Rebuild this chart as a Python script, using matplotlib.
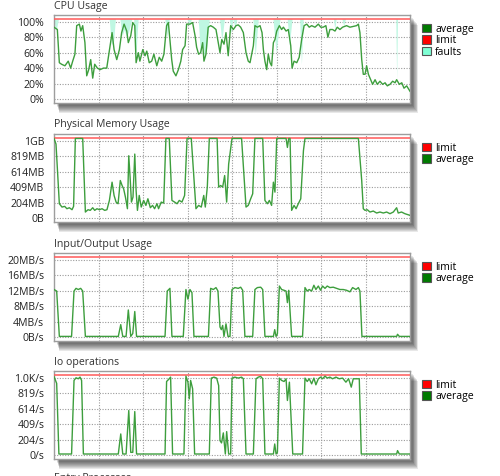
import matplotlib
matplotlib.use("Agg")
import matplotlib.pyplot as plt
from matplotlib.patches import Patch, Rectangle

plt.rcParams['font.family'] = ['Open Sans', 'DejaVu Sans']

# time axis runs 0..160 (8 grid intervals)
cpu_t = [0, 1.5, 2.4, 3.4, 4.9, 6.4, 7.5, 8.4, 9.4, 10.2, 11.4, 12.1, 12.9, 13.9, 14.7, 15.6, 16.5, 17.4,
         18.3, 19.5, 20.7, 22.2, 23.7, 25.2, 26.1, 27.0, 28.2, 29.4, 30.4, 31.5, 32.7, 33.4, 34.5, 35.4,
         36.3, 36.9, 37.9, 38.6, 39.9, 40.9, 41.7, 42.8, 43.9, 44.9, 46.2, 47.3, 48.4, 49.4, 50.6, 51.4,
         52.1, 52.9, 53.6, 54.8, 55.9, 57.0, 57.8, 58.9, 59.6, 61.1, 62.3, 63.4, 64.1, 65.0, 65.9, 66.8,
         67.4, 68.3, 69.3, 70.4, 71.6, 72.8, 73.8, 74.6, 75.4, 76.4, 77.3, 78.3, 79.4, 80.6, 81.8, 82.8,
         83.9, 85.1, 86.3, 87.3, 88.1, 89.6, 90.3, 91.4, 92.6, 93.5, 94.1, 94.8, 95.6, 96.3, 97.1, 97.8,
         98.6, 99.3, 100.1, 101.3, 102.3, 103.1, 104.3, 105.3, 106.4, 107.0, 107.9, 109.1, 110.2, 111.3,
         112.4, 113.6, 114.7, 115.8, 117.3, 118.8, 119.9, 121.0, 122.2, 123.1, 124.0, 125.2, 126.3, 127.3,
         128.5, 129.7, 131.5, 133.0, 134.5, 136.0, 136.8, 137.5, 138.3, 139.0, 139.8, 140.5, 141.3, 142.3,
         143.2, 144.3, 145.3, 146.5, 147.7, 148.8, 149.8, 151.0, 152.2, 153.3, 154.0, 155.2, 156.3, 157.3,
         158.5, 160]
cpu_avg = [93, 90, 47, 45, 43, 49, 40, 49, 58, 95, 97, 88, 95, 73, 30, 38, 51, 27,
           45, 40, 38, 40, 40, 69, 86, 64, 51, 64, 86, 97, 88, 73, 82, 99,
           95, 47, 60, 49, 64, 56, 62, 47, 49, 58, 43, 54, 49, 58, 95, 99,
           77, 51, 36, 30, 38, 49, 64, 69, 97, 97, 99, 82, 67, 58, 60, 73,
           49, 58, 93, 95, 93, 90, 73, 60, 77, 71, 86, 56, 95, 90, 95, 96,
           93, 86, 60, 49, 47, 69, 95, 93, 95, 86, 64, 49, 38, 58, 47, 43,
           73, 77, 88, 95, 90, 93, 88, 90, 69, 40, 49, 47, 54, 77,
           95, 97, 93, 95, 93, 97, 93, 93, 95, 80, 90, 90, 88, 93,
           90, 93, 95, 93, 94, 95, 97, 86, 51, 32, 32, 43, 32, 25,
           19, 25, 19, 23, 19, 21, 17, 19, 23, 21, 25, 19, 21, 14,
           17, 10]
cpu_limit = 104

# faults: lower edge of the light spikes hanging from the limit line
fault_t = [0, 0.6, 1.2, 2.0, 24.8, 25.8, 26.8, 27.6, 29.6, 30.6, 31.6, 32.6, 33.6, 35.0, 35.8, 36.8, 37.8,
           49.8, 50.8, 51.8, 59.8, 60.8, 61.8, 64.8, 65.8, 66.6, 67.6, 68.6, 69.8, 74.4, 75.4, 76.6, 78.8,
           79.6, 80.4, 81.4, 82.2, 89.4, 90.4, 91.8, 98.4, 99.8, 101.6, 104.8, 105.8, 107.0, 110.4, 111.2,
           112.0, 125.6, 126.2, 126.8, 129.4, 130.2, 131.0, 153.6, 154.0, 154.4, 160]
fault_lo = [104, 90, 92, 104, 104, 70, 75, 104, 104, 82, 90, 80, 88, 104, 104, 55, 104,
            104, 80, 104, 104, 95, 104, 104, 58, 70, 55, 65, 104, 104, 75, 104, 104,
            85, 104, 92, 104, 104, 55, 104, 104, 60, 104, 104, 70, 104, 104, 45,
            104, 104, 90, 104, 104, 95, 104, 104, 25, 104, 104]

mem_t = [0, 0.9, 2.4, 3.6, 4.8, 5.8, 6.9, 8.1, 8.8, 9.6, 12.9, 14.1, 15.3, 16.3, 17.4, 18.3, 19.3, 20.4,
         21.6, 22.8, 23.8, 24.9, 26.1, 27.0, 27.9, 28.8, 29.8, 30.6, 31.3, 32.1, 33.0, 33.6, 34.2, 34.8,
         35.5, 36.3, 36.9, 37.5, 38.3, 39.2, 40.3, 41.3, 42.2, 43.3, 44.3, 45.2, 46.3, 47.0, 48.2, 49.3,
         50.3, 51.8, 53.0, 54.2, 55.3, 56.3, 57.5, 58.7, 59.8, 61.7, 63.8, 65.0, 66.2, 67.3, 68.0, 68.9,
         69.8, 73.3, 74.0, 74.9, 75.8, 76.7, 77.6, 78.5, 80.0, 84.3, 86.3, 87.3, 88.4, 89.3, 90.3, 93.8,
         94.8, 95.9, 96.8, 97.8, 98.6, 99.3, 100.1, 104.3, 104.9, 105.5, 106.1, 106.8, 107.9, 108.8,
         109.8, 110.9, 112.1, 112.8, 136.8, 138.3, 139.0, 139.8, 140.8, 142.0, 143.5, 145.0, 146.5, 148.0,
         149.5, 151.0, 152.5, 154.0, 154.7, 156.2, 157.7, 160]
mem_avg = [1055, 980, 189, 145, 154, 123, 136, 110, 154, 1055, 1055, 79, 110, 101, 136, 101, 123, 110,
           123, 101, 110, 233, 475, 299, 211, 189, 497, 431, 387, 277, 123, 826, 541, 211,
           277, 848, 365, 101, 299, 145, 233, 167, 255, 136, 167, 123, 189, 123, 211, 198,
           1055, 1055, 233, 211, 189, 233, 211, 299, 1055, 1055, 123, 167, 145, 299, 145, 409,
           1055, 1055, 409, 431, 409, 563, 211, 716, 1055, 1055, 145, 167, 255, 321, 1055, 1055,
           233, 189, 233, 167, 475, 343, 1055, 1055, 936, 1055, 1055, 101, 167, 123,
           189, 255, 892, 1055, 1055, 497, 123, 101, 110, 79, 92, 66, 79, 66,
           79, 57, 79, 136, 66, 79, 57, 35]
mem_limit = 1055

io_t = [0, 1.2, 2.4, 7.9, 9.0, 9.9, 10.9, 12.0, 12.9, 14.1, 28.9, 30.0, 30.9, 32.4, 33.4, 34.5, 35.4,
        36.3, 37.1, 49.9, 50.9, 52.1, 53.0, 58.1, 59.3, 60.2, 61.1, 62.0, 62.9, 69.4, 70.4, 71.6, 72.8,
        73.7, 74.6, 75.2, 75.8, 76.4, 77.3, 78.2, 79.1, 80.0, 81.3, 82.8, 83.9, 84.8, 85.8, 88.1, 89.3,
        90.3, 91.4, 92.9, 93.8, 94.8, 98.6, 99.2, 99.8, 100.4, 101.3, 102.3, 103.4, 104.3, 104.9, 105.5,
        106.8, 111.7, 112.8, 113.8, 114.7, 115.8, 116.8, 117.7, 118.8, 119.8, 120.7, 121.8, 122.8, 124.0,
        125.5, 127.0, 128.5, 130.0, 131.5, 133.0, 134.2, 135.7, 136.8, 137.5, 138.4, 154.0, 154.4, 155.2,
        160]
io_avg = [12.3, 11.9, 0.15, 0.15, 11.9, 12.6, 12.3, 12.6, 11.9, 0.15, 0.15, 3.2, 0.15, 0.15, 7.0, 0.15, 0.9,
          6.6, 0.15, 0.15, 11.9, 12.6, 0.15, 0.15, 12.3, 9.8, 12.3, 11.5, 0.15, 0.15, 12.6, 12.3, 12.8,
          11.9, 2.6, 1.9, 3.0, 0.15, 3.4, 0.15, 0.15, 12.3, 12.8, 12.6, 12.9, 12.1, 0.15, 0.15, 0.15,
          12.3, 12.8, 12.9, 12.3, 0.15, 0.15, 1.9, 0.15, 0.8, 13.2, 12.3, 12.1, 11.9, 8.9, 12.1,
          0.15, 0.15, 12.8, 11.9, 12.3, 11.9, 13.4, 12.3, 13.2, 12.1, 13.2, 12.6, 13.2, 12.8,
          12.9, 12.6, 12.3, 12.3, 12.1, 11.7, 12.8, 12.3, 12.8, 11.9, 0.15, 0.15, 0.7, 0.15,
          0.15]
io_limit = 20.6

ops_t = [0, 1.2, 2.2, 7.9, 9.0, 9.9, 10.9, 11.7, 12.4, 13.2, 28.9, 30.0, 30.9, 32.4, 33.6, 34.5, 35.4,
         36.3, 37.1, 49.9, 50.6, 51.5, 52.4, 53.3, 58.4, 59.3, 60.2, 60.8, 61.4, 62.3, 63.2, 69.8, 70.7,
         71.9, 73.1, 74.0, 74.6, 75.3, 76.1, 77.0, 77.6, 78.5, 79.4, 80.0, 81.3, 82.8, 84.3, 85.1, 86.3,
         88.1, 89.6, 90.8, 91.8, 92.9, 93.8, 94.8, 98.6, 99.2, 99.8, 100.4, 101.3, 102.3, 103.4, 104.3,
         104.9, 105.8, 107.3, 111.7, 112.8, 113.8, 114.7, 115.8, 116.8, 117.7, 118.8, 119.8, 120.7, 121.8,
         122.8, 124.0, 125.2, 126.7, 128.2, 129.7, 131.2, 132.4, 133.6, 134.5, 135.7, 137.2, 138.1, 154.0,
         154.4, 155.2, 160]
ops_avg = [1040, 950, 13, 13, 989, 1024, 1011, 1033, 989, 13, 13, 279, 13, 13, 590, 35, 35,
           576, 13, 13, 975, 1002, 1033, 13, 13, 1046, 966, 745, 989, 878, 13, 13, 1020,
           1033, 1020, 922, 191, 160, 293, 13, 310, 13, 13, 1020, 1033, 1020, 1033, 1011, 13,
           13, 13, 1011, 1033, 1042, 1011, 13, 13, 146, 13, 35, 1020, 989, 975, 1011,
           723, 966, 13, 13, 1020, 975, 1011, 944, 1020, 931, 1011, 1033, 1011, 1046,
           1020, 1033, 1011, 1033, 1011, 1020, 966, 1011, 900, 1011, 1011, 1011, 13, 13,
           58, 13, 13]
ops_limit = 1055

panels = [
    ("CPU Usage", cpu_t, cpu_avg, cpu_limit, 20,
     ["0%", "20%", "40%", "60%", "80%", "100%"], ["average", "limit", "faults"]),
    ("Physical Memory Usage", mem_t, mem_avg, mem_limit, 204.8,
     ["0B", "204MB", "409MB", "614MB", "819MB", "1GB"], ["limit", "average"]),
    ("Input/Output Usage", io_t, io_avg, io_limit, 4,
     ["0B/s", "4MB/s", "8MB/s", "12MB/s", "16MB/s", "20MB/s"], ["limit", "average"]),
    ("Io operations", ops_t, ops_avg, ops_limit, 204.8,
     ["0/s", "204/s", "409/s", "614/s", "819/s", "1.0K/s"], ["limit", "average"]),
]
box_tops = [15, 134, 253, 371]

W, H = 500, 476
fig = plt.figure(figsize=(W / 100, H / 100), dpi=100)
fig.patch.set_facecolor("white")

legend_colors = {"average": "#007a00", "limit": "#ff0000", "faults": "#7fffd4"}
GREEN = "#3d9e3d"
RED = "#ff5a5a"

for (title, t, vals, limit, step, labels, leg), top in zip(panels, box_tops):
    left, right, h = 54, 410, 88
    pos = [left / W, 1 - (top + h) / H, (right - left) / W, h / H]

    # drop shadow below / right of the box
    for k in range(8):
        dx, dy, grow = 3 + k * 0.5, 3 + k * 0.7, k
        fig.patches.append(Rectangle(((left + dx - grow * 0.2) / W, 1 - (top + h + dy + grow * 0.3) / H),
                                     (right - left + grow * 0.4) / W, (h) / H,
                                     transform=fig.transFigure, facecolor="black",
                                     alpha=0.09, edgecolor="none", zorder=0))

    ax = fig.add_axes(pos)
    ax.set_zorder(2)
    ax.set_facecolor("white")
    ax.set_xlim(0, 160)
    ax.set_ylim(-0.26 * step, 5.44 * step)
    ax.set_xticks(range(20, 160, 20))
    ax.set_xticklabels([])
    ax.set_yticks([i * step for i in range(6)])
    ax.set_yticklabels(labels)
    ax.tick_params(length=0, pad=7, labelsize=7.6, colors="#222222")
    ax.grid(True, color="#9a9a9a", linestyle=(0, (1, 1.4)), linewidth=0.8)
    ax.set_axisbelow(True)
    for s in ax.spines.values():
        s.set_color("#9d9d9d")
        s.set_linewidth(1)

    if title == "CPU Usage":
        ax.fill_between(fault_t, fault_lo, limit, color="#bff7e2", linewidth=0, zorder=2)
    ax.axhline(limit, color=RED, linewidth=1.3, alpha=0.85, zorder=3)
    ax.plot(t, vals, color=GREEN, linewidth=1.0, zorder=4)

    ax.text(0, 1.0 + 6.5 / h, title, transform=ax.transAxes, fontsize=7.6,
            color="#333333", ha="left", va="baseline")

    handles = [Patch(facecolor=legend_colors[n], edgecolor="#555555", linewidth=0.8) for n in leg]
    ax.legend(handles, leg, loc="upper left", bbox_to_anchor=(1.035, 0.9), frameon=False,
              fontsize=7.6, handlelength=0.85, handleheight=0.85, handletextpad=0.35,
              labelspacing=0.05, borderaxespad=0, borderpad=0)

fig.text(54 / W, 1 - 478 / H, "Entry Processes", fontsize=7.6, color="#333333", ha="left", va="center")

fig.savefig("out.png", dpi=100, facecolor="white")
